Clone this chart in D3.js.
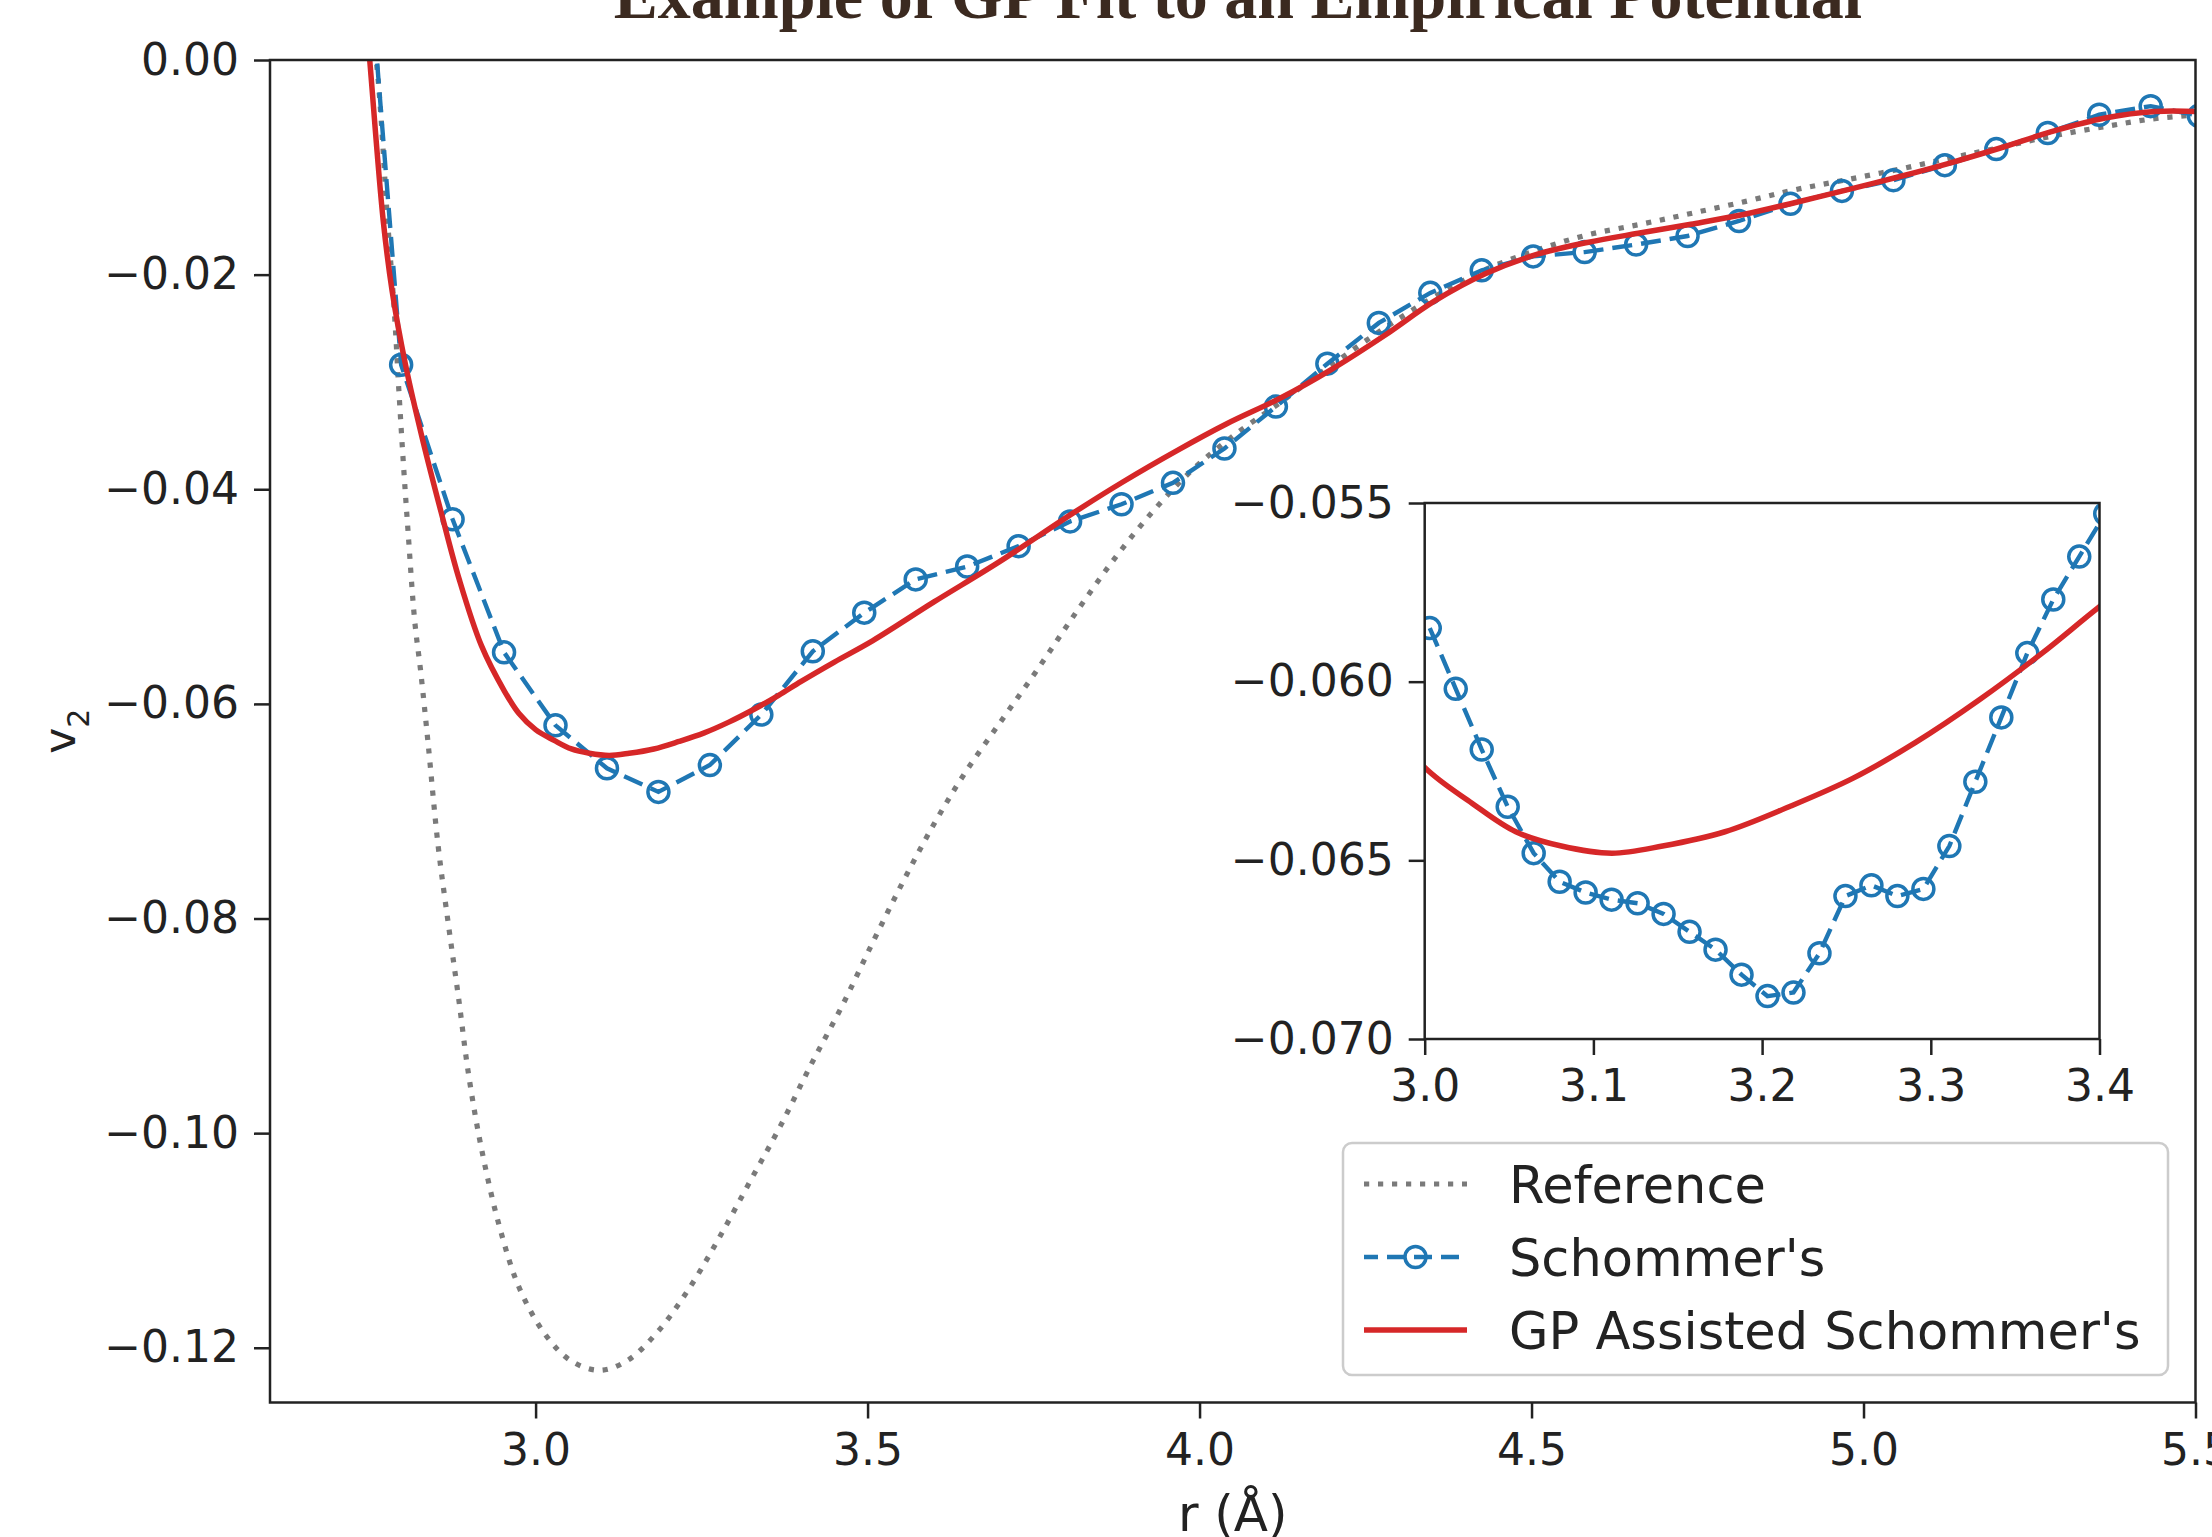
<!DOCTYPE html>
<html>
<head>
<meta charset="utf-8">
<script src="https://cdn.jsdelivr.net/npm/d3@7"></script>
<style>
  html, body { margin: 0; padding: 0; background: #ffffff; }
  svg { display: block; }
</style>
</head>
<body>
<script>
// ---------------- DATA ----------------
const chartTitle = "Example of GP Fit to an Empirical Potential";
const xLabel = "r (Å)";
const seriesNames = ["Reference", "Schommer's", "GP Assisted Schommer's"];

// Reference (empirical potential), dotted gray
const refR = [2.745, 2.760, 2.777, 2.787, 2.794, 2.801, 2.808, 2.818, 2.827, 2.838, 2.853, 2.869, 2.884, 2.899, 2.919, 2.946, 2.976, 3.015, 3.053, 3.096, 3.138, 3.184, 3.231, 3.277, 3.323, 3.369, 3.415, 3.462, 3.508, 3.554, 3.600, 3.646, 3.700, 3.758, 3.816, 3.874, 3.932, 3.989, 4.047, 4.122, 4.197, 4.278, 4.353, 4.428, 4.509, 4.584, 4.665, 4.740, 4.821, 4.896, 4.971, 5.052, 5.133, 5.202, 5.283, 5.364, 5.434, 5.503];
const refV = [0.006, 0.000, -0.0149, -0.0232, -0.0307, -0.0377, -0.0440, -0.0523, -0.0570, -0.0636, -0.0731, -0.0807, -0.0874, -0.0945, -0.1016, -0.1088, -0.1145, -0.1188, -0.1212, -0.1221, -0.1212, -0.1185, -0.1145, -0.1097, -0.1045, -0.0993, -0.0936, -0.0881, -0.0822, -0.0765, -0.0712, -0.0665, -0.0617, -0.0566, -0.0513, -0.0463, -0.0419, -0.0382, -0.0352, -0.0319, -0.0285, -0.0250, -0.0221, -0.0196, -0.0177, -0.0163, -0.0153, -0.0143, -0.0132, -0.0121, -0.0112, -0.0102, -0.0091, -0.0082, -0.0071, -0.0062, -0.0055, -0.0051];

// Schommer's (main panel markers), blue dashed with open circles
const schR = [2.720, 2.7975, 2.875, 2.9525, 3.030, 3.1075, 3.185, 3.2625, 3.340, 3.4175, 3.495, 3.5725, 3.650, 3.7275, 3.805, 3.8825, 3.960, 4.0375, 4.115, 4.1925, 4.270, 4.3475, 4.425, 4.5025, 4.580, 4.6575, 4.735, 4.8125, 4.890, 4.9675, 5.045, 5.1225, 5.200, 5.2775, 5.355, 5.4325, 5.505];
const schV = [0.032, -0.0284, -0.0428, -0.0552, -0.0620, -0.0660, -0.0682, -0.0657, -0.0610, -0.0551, -0.0515, -0.0484, -0.0472, -0.0453, -0.0430, -0.0414, -0.0394, -0.0362, -0.0323, -0.0283, -0.0245, -0.0217, -0.0196, -0.0183, -0.0179, -0.0172, -0.0164, -0.0150, -0.0134, -0.0122, -0.0112, -0.0098, -0.0083, -0.0068, -0.0051, -0.0043, -0.0052];

// Schommer's (inset, fine sampling)
const schInsetR = [3.0030, 3.0184, 3.0338, 3.0492, 3.0646, 3.0800, 3.0954, 3.1108, 3.1262, 3.1416, 3.1570, 3.1724, 3.1878, 3.2032, 3.2186, 3.2340, 3.2494, 3.2648, 3.2802, 3.2956, 3.3110, 3.3264, 3.3418, 3.3572, 3.3726, 3.3880, 3.4034];
const schInsetV = [-0.0585, -0.0602, -0.0619, -0.0635, -0.0648, -0.0656, -0.0659, -0.0661, -0.0662, -0.0665, -0.0670, -0.0675, -0.0682, -0.0688, -0.0687, -0.0676, -0.0660, -0.0657, -0.0660, -0.0658, -0.0646, -0.0628, -0.0610, -0.0592, -0.0577, -0.0565, -0.0553];

// GP Assisted Schommer's, solid red
const gpR = [2.740, 2.7502, 2.7704, 2.7839, 2.8041, 2.8311, 2.858, 2.885, 2.9186, 2.953, 2.975, 3.000, 3.028, 3.054, 3.081, 3.111, 3.141, 3.178, 3.216, 3.254, 3.291, 3.329, 3.366, 3.400, 3.450, 3.508, 3.600, 3.700, 3.810, 3.885, 3.966, 4.041, 4.122, 4.197, 4.278, 4.353, 4.431, 4.509, 4.584, 4.665, 4.740, 4.819, 4.896, 4.975, 5.052, 5.130, 5.206, 5.287, 5.364, 5.439, 5.503];
const gpV = [0.0075, 0.0000, -0.0149, -0.0215, -0.0284, -0.0357, -0.0422, -0.0484, -0.0546, -0.0588, -0.0609, -0.0624, -0.0634, -0.0642, -0.0646, -0.0648, -0.0646, -0.0642, -0.0635, -0.0627, -0.0617, -0.0605, -0.0592, -0.0579, -0.0561, -0.0541, -0.0505, -0.0467, -0.0422, -0.0393, -0.0364, -0.0339, -0.0315, -0.0289, -0.0257, -0.0225, -0.0199, -0.0181, -0.0170, -0.0161, -0.0153, -0.0144, -0.0133, -0.0121, -0.0109, -0.0096, -0.0082, -0.0066, -0.0054, -0.0048, -0.0048];

// Ticks
const xTicks = [3.0, 3.5, 4.0, 4.5, 5.0, 5.5];
const xTickLabels = ["3.0", "3.5", "4.0", "4.5", "5.0", "5.5"];
const yTicks = [0.00, -0.02, -0.04, -0.06, -0.08, -0.10, -0.12];
const yTickLabels = ["0.00", "\u22120.02", "\u22120.04", "\u22120.06", "\u22120.08", "\u22120.10", "\u22120.12"];
const insetXTicks = [3.0, 3.1, 3.2, 3.3, 3.4];
const insetXTickLabels = ["3.0", "3.1", "3.2", "3.3", "3.4"];
const insetYTicks = [-0.055, -0.060, -0.065, -0.070];
const insetYTickLabels = ["\u22120.055", "\u22120.060", "\u22120.065", "\u22120.070"];

// ---------------- DRAWING ----------------
const W = 2212, H = 1537;
const FONT = "'DejaVu Sans', sans-serif";
const C_REF = "#7a7a7a", C_SCH = "#1f77b4", C_GP = "#d62728", C_AX = "#222222";
const smooth = d3.curveCatmullRom.alpha(0.5);

const svg = d3.select("body").append("svg").attr("width", W).attr("height", H);
svg.append("rect").attr("width", W).attr("height", H).attr("fill", "#ffffff");

// main scales
const x = d3.scaleLinear().domain([2.6, 5.5]).range([270, 2195.5]);
const y = d3.scaleLinear().domain([-0.1251, 0]).range([1402.5, 60]);
const [mx0, mx1] = x.range(), [my1, my0] = y.range();

const defs = svg.append("defs");
defs.append("clipPath").attr("id", "clipMain").append("rect")
  .attr("x", mx0).attr("y", my0).attr("width", mx1 - mx0).attr("height", my1 - my0);

const plot = svg.append("g").attr("clip-path", "url(#clipMain)");
// Reference
plot.append("path").datum(d3.zip(refR, refV))
  .attr("d", d3.line().x(d => x(d[0])).y(d => y(d[1])).curve(smooth))
  .attr("fill", "none").attr("stroke", C_REF).attr("stroke-width", 5.2)
  .attr("stroke-dasharray", "5.2 8.8");
// Schommer's
plot.append("path").datum(d3.zip(schR, schV))
  .attr("d", d3.line().x(d => x(d[0])).y(d => y(d[1])))
  .attr("fill", "none").attr("stroke", C_SCH).attr("stroke-width", 4.4)
  .attr("stroke-dasharray", "20 9");
plot.selectAll("circle.sch").data(d3.zip(schR, schV)).join("circle").attr("class", "sch")
  .attr("cx", d => x(d[0])).attr("cy", d => y(d[1])).attr("r", 10.5)
  .attr("fill", "none").attr("stroke", C_SCH).attr("stroke-width", 3.5);
// GP
plot.append("path").datum(d3.zip(gpR, gpV))
  .attr("d", d3.line().x(d => x(d[0])).y(d => y(d[1])).curve(smooth))
  .attr("fill", "none").attr("stroke", C_GP).attr("stroke-width", 5.5);

function styleAxis(g, fs) {
  g.select(".domain").remove();
  g.selectAll(".tick line").attr("stroke", C_AX).attr("stroke-width", 2.5);
  g.selectAll(".tick text").attr("font-family", FONT).attr("font-size", fs).attr("fill", C_AX);
}

// main axes
svg.append("g").attr("transform", `translate(0,${my1})`)
  .call(d3.axisBottom(x).tickValues(xTicks).tickFormat((d, i) => xTickLabels[i]).tickSize(16).tickPadding(15))
  .call(g => styleAxis(g, 44));
svg.append("g").attr("transform", `translate(${mx0},0)`)
  .call(d3.axisLeft(y).tickValues(yTicks).tickFormat((d, i) => yTickLabels[i]).tickSize(16).tickPadding(15))
  .call(g => styleAxis(g, 44));
svg.append("rect").attr("x", mx0).attr("y", my0).attr("width", mx1 - mx0).attr("height", my1 - my0)
  .attr("fill", "none").attr("stroke", C_AX).attr("stroke-width", 2.5);

// axis labels
svg.append("text").attr("x", (mx0 + mx1) / 2).attr("y", 1531).attr("text-anchor", "middle")
  .attr("font-family", FONT).attr("font-size", 50).attr("fill", C_AX).text(xLabel);
const yl = svg.append("text").attr("transform", `translate(75,${(my0 + my1) / 2}) rotate(-90)`)
  .attr("text-anchor", "middle").attr("font-family", FONT).attr("font-size", 44).attr("fill", C_AX);
yl.append("tspan").text("v");
yl.append("tspan").attr("font-size", 30).attr("dy", 14).text("2");

// ---------------- INSET ----------------
const xi = d3.scaleLinear().domain([3.0, 3.4]).range([1424.7, 2099.5]);
const yi = d3.scaleLinear().domain([-0.070, -0.055]).range([1039, 503]);
const [ix0, ix1] = xi.range(), [iy1, iy0] = yi.range();
defs.append("clipPath").attr("id", "clipInset").append("rect")
  .attr("x", ix0).attr("y", iy0).attr("width", ix1 - ix0).attr("height", iy1 - iy0);
svg.append("rect").attr("x", ix0).attr("y", iy0).attr("width", ix1 - ix0).attr("height", iy1 - iy0).attr("fill", "#ffffff");
const inset = svg.append("g").attr("clip-path", "url(#clipInset)");
inset.append("path").datum(d3.zip(refR, refV))
  .attr("d", d3.line().x(d => xi(d[0])).y(d => yi(d[1])).curve(smooth))
  .attr("fill", "none").attr("stroke", C_REF).attr("stroke-width", 5.2).attr("stroke-dasharray", "5.2 8.8");
inset.append("path").datum(d3.zip(schInsetR, schInsetV))
  .attr("d", d3.line().x(d => xi(d[0])).y(d => yi(d[1])))
  .attr("fill", "none").attr("stroke", C_SCH).attr("stroke-width", 4.4).attr("stroke-dasharray", "20 9");
inset.selectAll("circle.schi").data(d3.zip(schInsetR, schInsetV)).join("circle").attr("class", "schi")
  .attr("cx", d => xi(d[0])).attr("cy", d => yi(d[1])).attr("r", 10.5)
  .attr("fill", "none").attr("stroke", C_SCH).attr("stroke-width", 3.5);
inset.append("path").datum(d3.zip(gpR, gpV))
  .attr("d", d3.line().x(d => xi(d[0])).y(d => yi(d[1])).curve(smooth))
  .attr("fill", "none").attr("stroke", C_GP).attr("stroke-width", 5.5);

svg.append("g").attr("transform", `translate(0,${iy1})`)
  .call(d3.axisBottom(xi).tickValues(insetXTicks).tickFormat((d, i) => insetXTickLabels[i]).tickSize(16).tickPadding(15))
  .call(g => styleAxis(g, 44));
svg.append("g").attr("transform", `translate(${ix0},0)`)
  .call(d3.axisLeft(yi).tickValues(insetYTicks).tickFormat((d, i) => insetYTickLabels[i]).tickSize(16).tickPadding(15))
  .call(g => styleAxis(g, 44));
svg.append("rect").attr("x", ix0).attr("y", iy0).attr("width", ix1 - ix0).attr("height", iy1 - iy0)
  .attr("fill", "none").attr("stroke", C_AX).attr("stroke-width", 2.5);

// ---------------- LEGEND ----------------
const lg = svg.append("g");
lg.append("rect").attr("x", 1343).attr("y", 1143).attr("width", 825).attr("height", 232)
  .attr("rx", 9).attr("ry", 9).attr("fill", "#ffffff").attr("fill-opacity", 0.85)
  .attr("stroke", "#cccccc").attr("stroke-width", 2.5);
const rowsY = [1184, 1257, 1330];
const styles = [
  { stroke: C_REF, w: 5.2, dash: "5.2 8.8", marker: false },
  { stroke: C_SCH, w: 4.4, dash: "18 9", marker: true },
  { stroke: C_GP, w: 5.5, dash: null, marker: false }
];
seriesNames.forEach((name, i) => {
  const s = styles[i], yy = rowsY[i];
  const ln = lg.append("line").attr("x1", 1364).attr("x2", 1467).attr("y1", yy).attr("y2", yy)
    .attr("stroke", s.stroke).attr("stroke-width", s.w);
  if (s.dash) ln.attr("stroke-dasharray", s.dash);
  if (i === 1) ln.attr("stroke-dashoffset", 4);
  if (s.marker) lg.append("circle").attr("cx", 1415.5).attr("cy", yy).attr("r", 10.5)
    .attr("fill", "none").attr("stroke", s.stroke).attr("stroke-width", 3.5);
  lg.append("text").attr("x", 1509).attr("y", yy + 18.5).attr("font-family", FONT)
    .attr("font-size", 51).attr("fill", C_AX).text(name);
});

// ---------------- TITLE (cut off at top, as in reference) ----------------
svg.append("text").attr("x", 1238).attr("y", 18).attr("text-anchor", "middle")
  .attr("font-family", "'Liberation Serif', 'Times New Roman', serif").attr("font-weight", "bold")
  .attr("font-size", 66).attr("fill", "#3b2a20").text(chartTitle);
</script>
</body>
</html>
